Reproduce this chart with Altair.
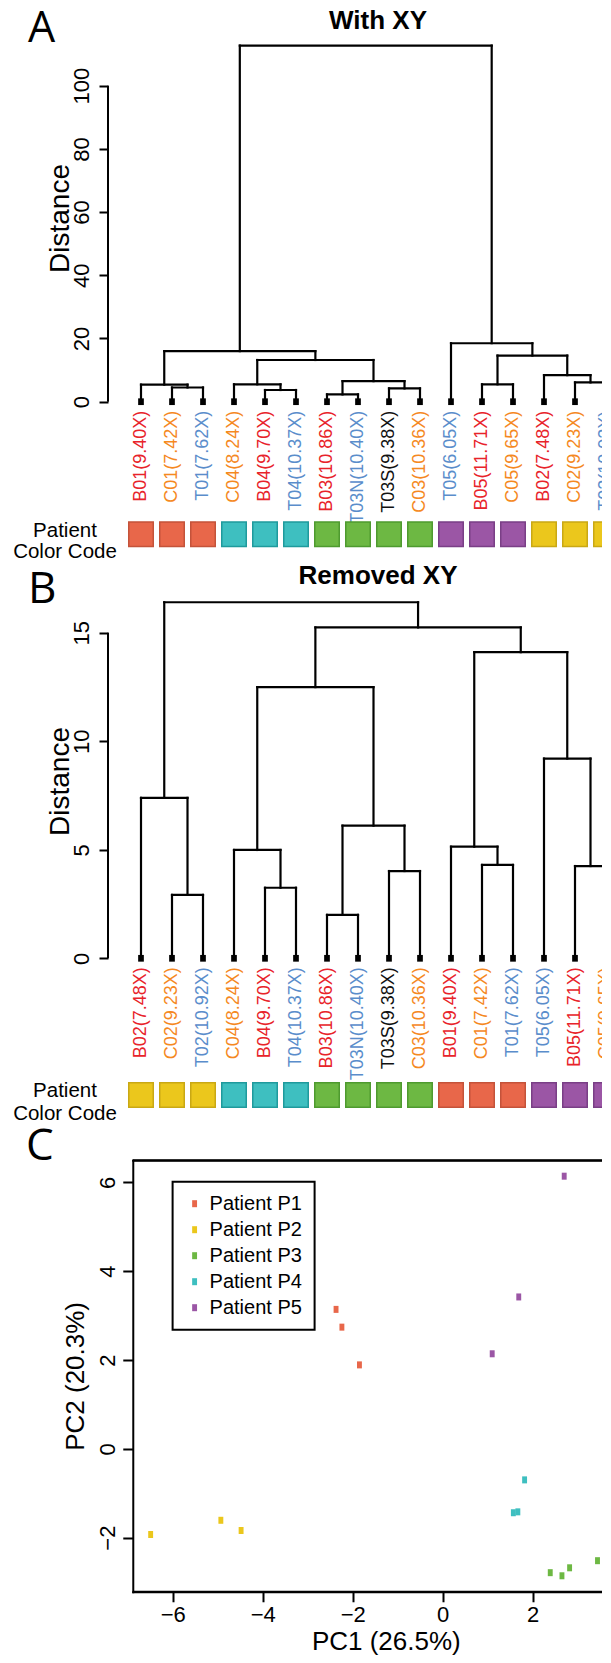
import altair as alt
import pandas as pd

# ---------------- data ----------------
labels_A = ["B01(9.40X)", "C01(7.42X)", "T01(7.62X)", "C04(8.24X)", "B04(9.70X)", "T04(10.37X)",
            "B03(10.86X)", "T03N(10.40X)", "T03S(9.38X)", "C03(10.36X)", "T05(6.05X)", "B05(11.71X)",
            "C05(9.65X)", "B02(7.48X)", "C02(9.23X)", "T02(10.92X)"]
patients_A = ["P1", "P1", "P1", "P4", "P4", "P4", "P3", "P3", "P3", "P3",
              "P5", "P5", "P5", "P2", "P2", "P2"]
# merges: (left, right, height); ints are leaf indices, "mK" is the K-th merge
merges_A = [
    (1, 2, 4.5), (0, "m0", 5.4),
    (4, 5, 3.7), (3, "m2", 5.5),
    (6, 7, 2.3), (8, 9, 4.2), ("m4", "m5", 6.5),
    ("m3", "m6", 13.2), ("m1", "m7", 16.0),
    (11, 12, 5.5), (14, 15, 6.1), (13, "m10", 8.4),
    ("m9", "m11", 14.6), (10, "m12", 18.5),
    ("m8", "m13", 112.7),
]
ticks_A = [0, 20, 40, 60, 80, 100]

labels_B = ["B02(7.48X)", "C02(9.23X)", "T02(10.92X)", "C04(8.24X)", "B04(9.70X)", "T04(10.37X)",
            "B03(10.86X)", "T03N(10.40X)", "T03S(9.38X)", "C03(10.36X)", "B01(9.40X)", "C01(7.42X)",
            "T01(7.62X)", "T05(6.05X)", "B05(11.71X)", "C05(9.65X)"]
patients_B = ["P2", "P2", "P2", "P4", "P4", "P4", "P3", "P3", "P3", "P3",
              "P1", "P1", "P1", "P5", "P5", "P5"]
merges_B = [
    (1, 2, 2.92), (0, "m0", 7.39),
    (4, 5, 3.25), (3, "m2", 4.99),
    (6, 7, 2.0), (8, 9, 4.02), ("m4", "m5", 6.11),
    ("m3", "m6", 12.49),
    (11, 12, 4.3), (10, "m8", 5.14),
    (14, 15, 4.25), (13, "m10", 9.2),
    ("m9", "m11", 14.1), ("m7", "m12", 15.24),
    ("m1", "m13", 16.4),
]
ticks_B = [0, 5, 10, 15]

pc1 = [-2.37, -2.24, -1.85, -6.49, -4.93, -4.48, 2.39, 2.65, 2.82, 3.44, 1.82, 1.57, 1.67, 2.70, 1.69, 1.10]
pc2 = [3.14, 2.74, 1.89, -1.93, -1.61, -1.84, -2.79, -2.86, -2.68, -2.52, -0.70, -1.44, -1.42, 6.14, 3.42, 2.14]
pca_group = ["Patient P1", "Patient P1", "Patient P1", "Patient P2", "Patient P2", "Patient P2",
             "Patient P3", "Patient P3", "Patient P3", "Patient P3", "Patient P4", "Patient P4",
             "Patient P4", "Patient P5", "Patient P5", "Patient P5"]
legend_names = ["Patient P1", "Patient P2", "Patient P3", "Patient P4", "Patient P5"]
ticks_pc1 = [-6, -4, -2, 0, 2]
ticks_pc2 = [-2, 0, 2, 4, 6]
black_labels = ["T03S"]

# ---------------- styles ----------------
FONT = "Liberation Sans"
LETTER_FONT = "Open Sans"
patient_ids = ["P1", "P2", "P3", "P4", "P5"]
patient_fill = ["#E8674A", "#EBC71C", "#6DB843", "#3EBFC0", "#9B56A5"]
patient_edge = ["#C4533A", "#C9A814", "#4E9A2F", "#1F9A9C", "#7A3F86"]
tissue_ids = ["B", "C", "T", "K"]
tissue_colors = ["#E8232A", "#F5891F", "#5A8DCB", "#111111"]
RECT_SHAPE = "M-0.7,-1H0.7V1H-0.7Z"      # R's small filled square (pch 15), slightly tall
TIP_SHAPE = "M-0.85,-1H0.85V1H-0.85Z"

W = 603
H_A, H_B, H_C = 555, 562, 530
AXIS_PX = 100
LEAF1_PX, LEAF_STEP = 133, 31
RIGHT_CUT = 9   # the figure is cropped at the right edge: marks there are cut off


def dendro_segments(n, merges):
    pos = {i: i + 1 for i in range(n)}
    hgt = {i: 0.0 for i in range(n)}
    rows = []
    for k, (a, b, h) in enumerate(merges):
        xa, xb = pos[a], pos[b]
        rows.append(dict(x=xa, x2=xb, y=h, y2=h))
        rows.append(dict(x=xa, x2=xa, y=hgt[a], y2=h))
        rows.append(dict(x=xb, x2=xb, y=hgt[b], y2=h))
        pos["m%d" % k] = (xa + xb) / 2
        hgt["m%d" % k] = h
    return pd.DataFrame(rows)


def leaves_df(labels, patients):
    rows = []
    for i, (lab, p) in enumerate(zip(labels, patients)):
        sid = lab.split("(")[0]
        tissue = "K" if sid in black_labels else sid[0]
        rows.append(dict(x=i + 1, y=0.0, label=lab, tissue=tissue, patient=p))
    return pd.DataFrame(rows)


def text_layer(txt, x, y, size, weight="normal", font=FONT, align="center"):
    return alt.Chart(pd.DataFrame({"t": [txt]})).mark_text(
        fontSize=size, fontWeight=weight, font=font, align=align,
        baseline="alphabetic", color="black"
    ).encode(text="t:N", x=alt.value(x), y=alt.value(y))


def dendro_panel(labels, patients, merges, ticks, H, zero_px, ppu, letter, letter_pos, letter_size,
                 title, title_y, sq_offset, pat_y, dist_y):
    xs = alt.Scale(domain=[1 - LEAF1_PX / LEAF_STEP, 1 + (W - LEAF1_PX) / LEAF_STEP], nice=False, zero=False)
    ys = alt.Scale(domain=[-(H - zero_px) / ppu, zero_px / ppu], nice=False, zero=False)
    yaxis = alt.Axis(values=ticks, offset=-AXIS_PX, domain=False, grid=False, ticks=True,
                     tickSize=9, tickWidth=2, tickColor="black",
                     labelAngle=270, labelAlign="center", labelBaseline="alphabetic",
                     labelPadding=11, labelFontSize=22, labelFont=FONT, labelColor="black",
                     labelOverlap=False, labelFlush=False,
                     title="Distance", titleAngle=270, titleAlign="center", titleBaseline="alphabetic",
                     titleX=-40, titleY=dist_y, titleFontSize=28, titleFont=FONT,
                     titleFontWeight="normal", titleColor="black")
    X = alt.X("x:Q", scale=xs, axis=None)
    Y = alt.Y("y:Q", scale=ys, axis=yaxis)
    seg = alt.Chart(dendro_segments(len(labels), merges)).mark_rule(
        color="black", strokeWidth=2.2, strokeCap="square", clip=True
    ).encode(x=X, x2="x2:Q", y=Y, y2="y2:Q")
    lv = leaves_df(labels, patients)
    tips = alt.Chart(lv).mark_point(shape=TIP_SHAPE, filled=True, color="black", size=45,
                                    opacity=1, clip=True).encode(x=X, y=Y)
    labs = alt.Chart(lv).mark_text(angle=270, align="right", baseline="middle", fontSize=18,
                                   font=FONT, yOffset=9, clip=True).encode(
        x=X, y=Y, text="label:N",
        color=alt.Color("tissue:N", scale=alt.Scale(domain=tissue_ids, range=tissue_colors), legend=None))
    sq = alt.Chart(lv).mark_point(shape="square", filled=True, size=600, strokeWidth=1.5, opacity=1,
                                  yOffset=sq_offset, clip=True).encode(
        x=X, y=Y,
        fill=alt.Fill("patient:N", scale=alt.Scale(domain=patient_ids, range=patient_fill), legend=None),
        stroke=alt.Stroke("patient:N", scale=alt.Scale(domain=patient_ids, range=patient_edge), legend=None))
    axis_line = alt.Chart(pd.DataFrame({"y": [min(ticks)], "y2": [max(ticks)]})).mark_rule(
        color="black", strokeWidth=2).encode(x=alt.value(AXIS_PX), y=Y, y2="y2:Q")
    texts = [
        text_layer(letter, letter_pos[0], letter_pos[1], letter_size, font=LETTER_FONT, align="left"),
        text_layer(title, 370, title_y, 26, weight="bold"),
        text_layer("Patient", 57, pat_y[0], 20.5),
        text_layer("Color Code", 57, pat_y[1], 20.5),
    ]
    return alt.layer(seg, tips, labs, sq, axis_line, *texts).properties(width=W, height=H)


panel_A = dendro_panel(labels_A, patients_A, merges_A, ticks_A, H_A, 393.7, 3.16,
                       "A", (20, 34.3), 43, "With XY", 21, 132.5, (528.7, 550.3), 210)
panel_B = dendro_panel(labels_B, patients_B, merges_B, ticks_B, H_B, 395.3, 21.71,
                       "B", (20, 40), 44, "Removed XY", 21, 136.7, (533.7, 557), 218)

# ---------------- PCA panel ----------------
PPU_X, PPU_Y = 45.0, 44.4          # pixels per PC unit
X0_PX, Y0_PX = 434.7, 323.8        # pixel position of PC1 = 0 / PC2 = 0 inside the panel
rx = max(pc1) - min(pc1)
ry = max(pc2) - min(pc2)
xlo, xhi = min(pc1) - 0.04 * rx, max(pc1) + 0.04 * rx   # R's usual 4 % axis extension
ylo, yhi = min(pc2) - 0.04 * ry, max(pc2) + 0.04 * ry
frame_left_px = X0_PX + xlo * PPU_X
frame_right_px = X0_PX + xhi * PPU_X
frame_top_px = Y0_PX - yhi * PPU_Y
frame_bottom_px = Y0_PX - ylo * PPU_Y

xsc_C = alt.Scale(domain=[xlo, xhi], range=[frame_left_px, frame_right_px], nice=False, zero=False)
ysc_C = alt.Scale(domain=[ylo, yhi], range=[frame_bottom_px, frame_top_px], nice=False, zero=False)

xaxis_C = alt.Axis(values=ticks_pc1, offset=-(H_C - frame_bottom_px), grid=False, domain=False,
                   tickSize=10, tickWidth=2, tickColor="black",
                   labelBaseline="alphabetic", labelPadding=19.5, labelFontSize=22, labelFont=FONT,
                   labelColor="black", labelOverlap=False, labelFlush=False,
                   title="PC1 (26.5%)", titleX=377.8, titleY=58, titleAlign="center",
                   titleBaseline="alphabetic", titleFontSize=26, titleFont=FONT,
                   titleFontWeight="normal", titleColor="black")
yaxis_C = alt.Axis(values=ticks_pc2, offset=-frame_left_px, grid=False, domain=False,
                   tickSize=10, tickWidth=2, tickColor="black",
                   labelAngle=270, labelAlign="center", labelBaseline="alphabetic",
                   labelPadding=8, labelFontSize=22, labelFont=FONT, labelColor="black",
                   labelOverlap=False, labelFlush=False,
                   title="PC2 (20.3%)", titleAngle=270, titleAlign="center", titleBaseline="alphabetic",
                   titleX=-49, titleY=250.9, titleFontSize=26, titleFont=FONT,
                   titleFontWeight="normal", titleColor="black")


def box_axis(orient, offset):
    # an axis that only draws its domain line: used for the sides of the plot box
    return alt.Axis(orient=orient, offset=offset, grid=False, domain=True, domainColor="black",
                    domainWidth=2, domainCap="square", ticks=False, labels=False, title=None)


pca_df = pd.DataFrame({"x": pc1, "y": pc2, "group": pca_group})
pts = alt.Chart(pca_df).mark_point(shape=RECT_SHAPE, filled=True, size=49, opacity=1, clip=True).encode(
    x=alt.X("x:Q", scale=xsc_C, axis=xaxis_C), y=alt.Y("y:Q", scale=ysc_C, axis=yaxis_C),
    color=alt.Color("group:N", scale=alt.Scale(domain=legend_names, range=patient_fill),
                    legend=alt.Legend(title=None, orient="none", legendX=164.6, legendY=56.7,
                                      strokeColor="black", padding=12, labelFontSize=20,
                                      labelFont=FONT, labelColor="black", symbolType=RECT_SHAPE,
                                      symbolSize=49, symbolStrokeWidth=0, rowPadding=6,
                                      labelOffset=5)))
# sides of the plot box (top + left, bottom)
box_top = alt.Chart(pd.DataFrame({"fx": [xlo], "fx2": [xhi], "fy": [yhi]})).mark_rule(
    color="black", strokeWidth=2, clip=True).encode(
    x=alt.X("fx:Q", scale=xsc_C, axis=box_axis("top", -frame_top_px)), x2="fx2:Q",
    y=alt.Y("fy:Q", scale=ysc_C, axis=box_axis("left", -frame_left_px)))
box_bottom = alt.Chart(pd.DataFrame({"fx": [xlo], "fx2": [xhi], "fy": [ylo]})).mark_rule(
    color="black", strokeWidth=2, clip=True).encode(
    x=alt.X("fx:Q", scale=xsc_C, axis=box_axis("bottom", -(H_C - frame_bottom_px))), x2="fx2:Q",
    y=alt.Y("fy:Q", scale=ysc_C, axis=None))
panel_C = alt.layer(pts, box_top, box_bottom,
                    text_layer("C", 18, 35, 44, font=LETTER_FONT, align="left")).resolve_scale(
    x="independent", y="independent").resolve_axis(x="independent", y="independent").properties(
    width=W, height=H_C)

chart = alt.vconcat(panel_A, panel_B, panel_C, spacing=0, bounds="flush").resolve_scale(
    color="independent", fill="independent", stroke="independent"
).properties(
    padding={"left": 0, "top": 0, "right": -RIGHT_CUT, "bottom": 0}, background="white"
).configure_view(stroke=None, clip=True).configure_legend(strokeWidth=2)

chart.save("out.html", embed_options={"renderer": "svg", "actions": False})
